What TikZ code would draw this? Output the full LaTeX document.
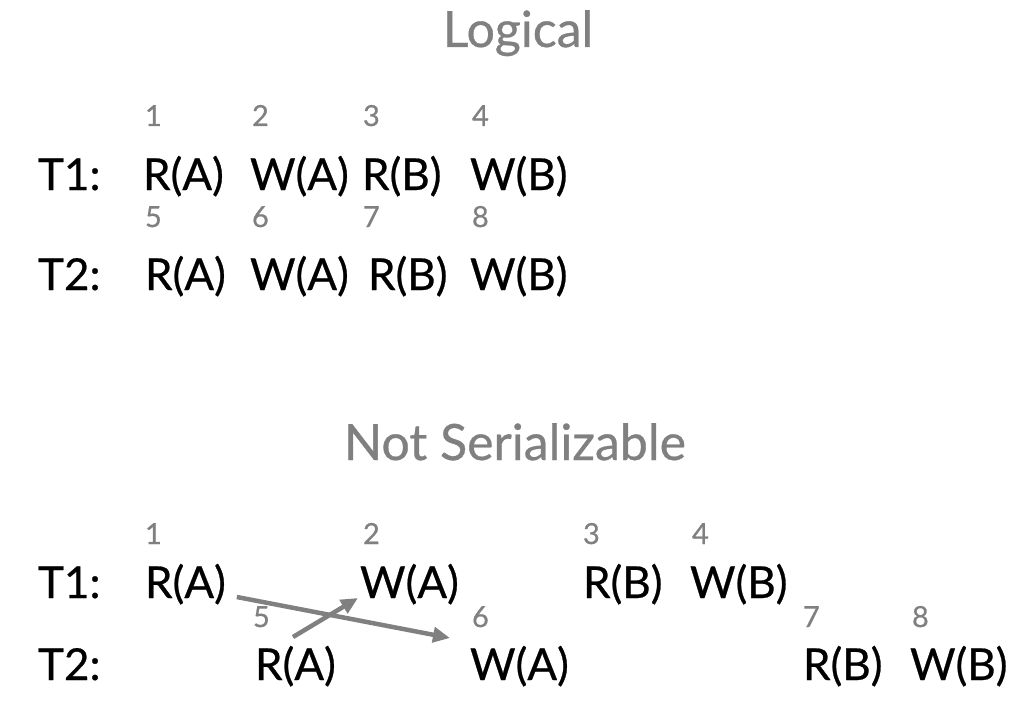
\documentclass[tikz,border=0pt]{standalone}
\usepackage{fontspec}
\setmainfont{Lato}
\newfontfamily\heavyfont{Lato}[FakeBold=0.6]
\usetikzlibrary{arrows.meta}
\definecolor{softgrey}{HTML}{808080}
\begin{document}
\begin{tikzpicture}[x=1pt,y=-1pt,
  every node/.style={inner sep=0pt,outer sep=0pt},
  title/.style={anchor=base,text=softgrey,font=\heavyfont\fontsize{50}{60}\selectfont},
  op/.style={anchor=base west,font=\heavyfont\fontsize{44}{50}\selectfont},
  num/.style={anchor=base west,text=softgrey,font=\heavyfont\fontsize{29}{34}\selectfont},
  conflict/.style={draw=softgrey,line width=4.5pt,-{Triangle[length=17pt,width=15pt]}}]
\useasboundingbox (0,0) rectangle (1018,706);

% ---- serial order of the two transactions ----
\node[title] (logical) at (518,47) {Logical};

\node[op] (lt1) at (38,190) {T1:};
\node[op] (lra1) at (143,190) {R(A)};
\node[op] (lwa1) at (250,190) {W(A)};
\node[op] (lrb1) at (362,190) {R(B)};
\node[op] (lwb1) at (470,190) {W(B)};
\node[num] (ln1) at (145,126) {1};
\node[num] (ln2) at (252,126) {2};
\node[num] (ln3) at (363,126) {3};
\node[num] (ln4) at (472,126) {4};

\node[op] (lt2) at (38,290) {T2:};
\node[op] (lra2) at (145,290) {R(A)};
\node[op] (lwa2) at (250,290) {W(A)};
\node[op] (lrb2) at (368,290) {R(B)};
\node[op] (lwb2) at (470,290) {W(B)};
\node[num] (ln5) at (145,227) {5};
\node[num] (ln6) at (252,227) {6};
\node[num] (ln7) at (363,227) {7};
\node[num] (ln8) at (472,227) {8};

% ---- interleaved schedule ----
\node[title] (notser) at (515,460) {Not Serializable};

\node[op] (t1) at (38,598) {T1:};
\node[op] (ra1) at (145,598) {R(A)};
\node[op] (wa1) at (360,598) {W(A)};
\node[op] (rb1) at (583,598) {R(B)};
\node[op] (wb1) at (690,598) {W(B)};
\node[num] (n1) at (145,544) {1};
\node[num] (n2) at (363,544) {2};
\node[num] (n3) at (583,544) {3};
\node[num] (n4) at (692,544) {4};

\node[op] (t2) at (38,680) {T2:};
\node[op] (ra2) at (255,680) {R(A)};
\node[op] (wa2) at (470,680) {W(A)};
\node[op] (rb2) at (803,680) {R(B)};
\node[op] (wb2) at (910,680) {W(B)};
\node[num] (n5) at (253,627) {5};
\node[num] (n6) at (472,627) {6};
\node[num] (n7) at (803,627) {7};
\node[num] (n8) at (912,627) {8};

% conflicting accesses to A
\draw[conflict] ([shift={(11,-1)}]ra1.base east) -- ([shift={(-20,-42)}]wa2.base west);
\draw[conflict] ([shift={(38,-43)}]ra2.base west) -- ([shift={(-2,0)}]wa1.base west);
\end{tikzpicture}
\end{document}
